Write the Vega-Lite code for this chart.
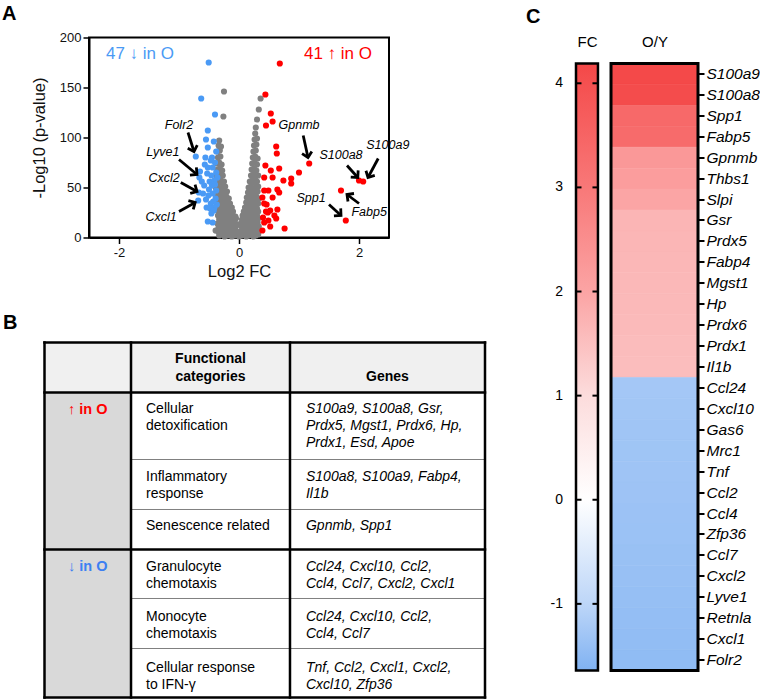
{
  "$schema": "https://vega.github.io/schema/vega-lite/v6.json",
  "background": "white",
  "padding": {"left": 1, "top": 2.5, "right": 0, "bottom": 0},
  "bounds": "flush",
  "align": "none",
  "columns": 2,
  "spacing": {"row": 105, "column": 187},
  "config": {
    "font": "Liberation Sans",
    "view": {"stroke": null},
    "axis": {"labelColor": "#111", "titleColor": "#111", "grid": false},
    "title": {"fontSize": 20, "fontWeight": "bold", "color": "black", "anchor": "start", "frame": "group", "offset": 8}
  },
  "concat": [
    {
      "title": {"text": "A", "dx": -87},
      "width": 300,
      "height": 200,
      "view": {"stroke": "black", "strokeWidth": 2},
      "layer": [
        {
          "data": {"values": [
            {"lfc":-0.33,"nlp":2,"grp":"ns"},{"lfc":-0.28,"nlp":3,"grp":"ns"},{"lfc":-0.24,"nlp":1,"grp":"ns"},{"lfc":-0.2,"nlp":2,"grp":"ns"},{"lfc":-0.16,"nlp":3,"grp":"ns"},{"lfc":-0.12,"nlp":1,"grp":"ns"},{"lfc":-0.08,"nlp":2,"grp":"ns"},{"lfc":-0.04,"nlp":3,"grp":"ns"},{"lfc":0,"nlp":1,"grp":"ns"},{"lfc":0.04,"nlp":2,"grp":"ns"},{"lfc":0.08,"nlp":3,"grp":"ns"},{"lfc":0.12,"nlp":1,"grp":"ns"},{"lfc":0.16,"nlp":2,"grp":"ns"},{"lfc":0.2,"nlp":3,"grp":"ns"},{"lfc":0.24,"nlp":1,"grp":"ns"},{"lfc":0.28,"nlp":2,"grp":"ns"},{"lfc":0.32,"nlp":3,"grp":"ns"},
            {"lfc":-0.35,"nlp":6,"grp":"ns"},{"lfc":-0.3,"nlp":7,"grp":"ns"},{"lfc":-0.26,"nlp":5,"grp":"ns"},{"lfc":-0.22,"nlp":6,"grp":"ns"},{"lfc":-0.18,"nlp":7,"grp":"ns"},{"lfc":-0.14,"nlp":5,"grp":"ns"},{"lfc":-0.1,"nlp":6,"grp":"ns"},{"lfc":-0.06,"nlp":7,"grp":"ns"},{"lfc":-0.02,"nlp":5,"grp":"ns"},{"lfc":0.02,"nlp":6,"grp":"ns"},{"lfc":0.06,"nlp":7,"grp":"ns"},{"lfc":0.1,"nlp":5,"grp":"ns"},{"lfc":0.14,"nlp":6,"grp":"ns"},{"lfc":0.18,"nlp":7,"grp":"ns"},{"lfc":0.22,"nlp":5,"grp":"ns"},{"lfc":0.26,"nlp":6,"grp":"ns"},{"lfc":0.3,"nlp":7,"grp":"ns"},
            {"lfc":-0.34,"nlp":10,"grp":"ns"},{"lfc":-0.29,"nlp":11,"grp":"ns"},{"lfc":-0.25,"nlp":9,"grp":"ns"},{"lfc":-0.21,"nlp":10,"grp":"ns"},{"lfc":-0.17,"nlp":11,"grp":"ns"},{"lfc":-0.13,"nlp":9,"grp":"ns"},{"lfc":-0.09,"nlp":10,"grp":"ns"},{"lfc":-0.05,"nlp":11,"grp":"ns"},{"lfc":0.05,"nlp":10,"grp":"ns"},{"lfc":0.09,"nlp":11,"grp":"ns"},{"lfc":0.13,"nlp":9,"grp":"ns"},{"lfc":0.17,"nlp":10,"grp":"ns"},{"lfc":0.21,"nlp":11,"grp":"ns"},{"lfc":0.25,"nlp":9,"grp":"ns"},{"lfc":0.29,"nlp":10,"grp":"ns"},{"lfc":0.33,"nlp":11,"grp":"ns"},
            {"lfc":-0.36,"nlp":14,"grp":"ns"},{"lfc":-0.31,"nlp":15,"grp":"ns"},{"lfc":-0.27,"nlp":13,"grp":"ns"},{"lfc":-0.23,"nlp":14,"grp":"ns"},{"lfc":-0.19,"nlp":15,"grp":"ns"},{"lfc":-0.15,"nlp":13,"grp":"ns"},{"lfc":-0.11,"nlp":14,"grp":"ns"},{"lfc":-0.07,"nlp":15,"grp":"ns"},{"lfc":-0.03,"nlp":13,"grp":"ns"},{"lfc":0.03,"nlp":14,"grp":"ns"},{"lfc":0.07,"nlp":15,"grp":"ns"},{"lfc":0.11,"nlp":13,"grp":"ns"},{"lfc":0.15,"nlp":14,"grp":"ns"},{"lfc":0.19,"nlp":15,"grp":"ns"},{"lfc":0.23,"nlp":13,"grp":"ns"},{"lfc":0.27,"nlp":14,"grp":"ns"},{"lfc":0.31,"nlp":15,"grp":"ns"},
            {"lfc":-0.33,"nlp":18,"grp":"ns"},{"lfc":-0.29,"nlp":19,"grp":"ns"},{"lfc":-0.25,"nlp":17,"grp":"ns"},{"lfc":-0.21,"nlp":18,"grp":"ns"},{"lfc":-0.17,"nlp":19,"grp":"ns"},{"lfc":-0.13,"nlp":17,"grp":"ns"},{"lfc":-0.09,"nlp":18,"grp":"ns"},{"lfc":-0.05,"nlp":19,"grp":"ns"},{"lfc":0.05,"nlp":18,"grp":"ns"},{"lfc":0.09,"nlp":19,"grp":"ns"},{"lfc":0.13,"nlp":17,"grp":"ns"},{"lfc":0.17,"nlp":18,"grp":"ns"},{"lfc":0.21,"nlp":19,"grp":"ns"},{"lfc":0.25,"nlp":17,"grp":"ns"},{"lfc":0.29,"nlp":18,"grp":"ns"},{"lfc":0.32,"nlp":19,"grp":"ns"},
            {"lfc":-0.35,"nlp":22,"grp":"ns"},{"lfc":-0.3,"nlp":23,"grp":"ns"},{"lfc":-0.26,"nlp":21,"grp":"ns"},{"lfc":-0.22,"nlp":22,"grp":"ns"},{"lfc":-0.18,"nlp":23,"grp":"ns"},{"lfc":-0.14,"nlp":21,"grp":"ns"},{"lfc":-0.1,"nlp":22,"grp":"ns"},{"lfc":-0.06,"nlp":21,"grp":"ns"},{"lfc":0.06,"nlp":22,"grp":"ns"},{"lfc":0.1,"nlp":23,"grp":"ns"},{"lfc":0.14,"nlp":21,"grp":"ns"},{"lfc":0.18,"nlp":22,"grp":"ns"},{"lfc":0.22,"nlp":23,"grp":"ns"},{"lfc":0.26,"nlp":21,"grp":"ns"},{"lfc":0.3,"nlp":22,"grp":"ns"},
            {"lfc":-0.34,"nlp":26,"grp":"ns"},{"lfc":-0.3,"nlp":27,"grp":"ns"},{"lfc":-0.26,"nlp":25,"grp":"ns"},{"lfc":-0.22,"nlp":26,"grp":"ns"},{"lfc":-0.18,"nlp":27,"grp":"ns"},{"lfc":-0.14,"nlp":25,"grp":"ns"},{"lfc":-0.1,"nlp":26,"grp":"ns"},{"lfc":0.08,"nlp":26,"grp":"ns"},{"lfc":0.12,"nlp":27,"grp":"ns"},{"lfc":0.16,"nlp":25,"grp":"ns"},{"lfc":0.2,"nlp":26,"grp":"ns"},{"lfc":0.24,"nlp":27,"grp":"ns"},{"lfc":0.28,"nlp":25,"grp":"ns"},{"lfc":0.32,"nlp":26,"grp":"ns"},
            {"lfc":-0.37,"nlp":30,"grp":"ns"},{"lfc":-0.32,"nlp":31,"grp":"ns"},{"lfc":-0.28,"nlp":29,"grp":"ns"},{"lfc":-0.24,"nlp":30,"grp":"ns"},{"lfc":-0.2,"nlp":31,"grp":"ns"},{"lfc":-0.16,"nlp":29,"grp":"ns"},{"lfc":-0.12,"nlp":30,"grp":"ns"},{"lfc":0.1,"nlp":30,"grp":"ns"},{"lfc":0.14,"nlp":31,"grp":"ns"},{"lfc":0.18,"nlp":29,"grp":"ns"},{"lfc":0.22,"nlp":30,"grp":"ns"},{"lfc":0.26,"nlp":31,"grp":"ns"},{"lfc":0.3,"nlp":29,"grp":"ns"},
            {"lfc":-0.35,"nlp":35,"grp":"ns"},{"lfc":-0.31,"nlp":36,"grp":"ns"},{"lfc":-0.27,"nlp":34,"grp":"ns"},{"lfc":-0.23,"nlp":35,"grp":"ns"},{"lfc":-0.19,"nlp":36,"grp":"ns"},{"lfc":-0.15,"nlp":34,"grp":"ns"},{"lfc":0.12,"nlp":35,"grp":"ns"},{"lfc":0.16,"nlp":36,"grp":"ns"},{"lfc":0.2,"nlp":34,"grp":"ns"},{"lfc":0.24,"nlp":35,"grp":"ns"},{"lfc":0.28,"nlp":36,"grp":"ns"},{"lfc":0.32,"nlp":34,"grp":"ns"},
            {"lfc":-0.38,"nlp":40,"grp":"ns"},{"lfc":-0.33,"nlp":41,"grp":"ns"},{"lfc":-0.29,"nlp":39,"grp":"ns"},{"lfc":-0.25,"nlp":40,"grp":"ns"},{"lfc":-0.21,"nlp":41,"grp":"ns"},{"lfc":-0.17,"nlp":39,"grp":"ns"},{"lfc":0.13,"nlp":40,"grp":"ns"},{"lfc":0.17,"nlp":41,"grp":"ns"},{"lfc":0.21,"nlp":39,"grp":"ns"},{"lfc":0.25,"nlp":40,"grp":"ns"},{"lfc":0.29,"nlp":41,"grp":"ns"},{"lfc":0.33,"nlp":39,"grp":"ns"},
            {"lfc":-0.36,"nlp":45,"grp":"ns"},{"lfc":-0.32,"nlp":46,"grp":"ns"},{"lfc":-0.28,"nlp":44,"grp":"ns"},{"lfc":-0.24,"nlp":45,"grp":"ns"},{"lfc":-0.2,"nlp":46,"grp":"ns"},{"lfc":0.15,"nlp":45,"grp":"ns"},{"lfc":0.19,"nlp":46,"grp":"ns"},{"lfc":0.23,"nlp":44,"grp":"ns"},{"lfc":0.27,"nlp":45,"grp":"ns"},{"lfc":0.31,"nlp":46,"grp":"ns"},
            {"lfc":-0.39,"nlp":50,"grp":"ns"},{"lfc":-0.35,"nlp":51,"grp":"ns"},{"lfc":-0.31,"nlp":49,"grp":"ns"},{"lfc":-0.27,"nlp":50,"grp":"ns"},{"lfc":-0.23,"nlp":51,"grp":"ns"},{"lfc":0.16,"nlp":50,"grp":"ns"},{"lfc":0.2,"nlp":51,"grp":"ns"},{"lfc":0.24,"nlp":49,"grp":"ns"},{"lfc":0.28,"nlp":50,"grp":"ns"},{"lfc":0.32,"nlp":51,"grp":"ns"},
            {"lfc":-0.37,"nlp":56,"grp":"ns"},{"lfc":-0.33,"nlp":57,"grp":"ns"},{"lfc":-0.29,"nlp":55,"grp":"ns"},{"lfc":-0.25,"nlp":56,"grp":"ns"},{"lfc":0.18,"nlp":56,"grp":"ns"},{"lfc":0.22,"nlp":57,"grp":"ns"},{"lfc":0.26,"nlp":55,"grp":"ns"},{"lfc":0.3,"nlp":56,"grp":"ns"},
            {"lfc":-0.38,"nlp":62,"grp":"ns"},{"lfc":-0.34,"nlp":63,"grp":"ns"},{"lfc":-0.3,"nlp":61,"grp":"ns"},{"lfc":-0.27,"nlp":62,"grp":"ns"},{"lfc":0.2,"nlp":62,"grp":"ns"},{"lfc":0.24,"nlp":63,"grp":"ns"},{"lfc":0.28,"nlp":61,"grp":"ns"},{"lfc":0.32,"nlp":62,"grp":"ns"},
            {"lfc":-0.36,"nlp":68,"grp":"ns"},{"lfc":-0.32,"nlp":69,"grp":"ns"},{"lfc":-0.28,"nlp":67,"grp":"ns"},{"lfc":0.21,"nlp":68,"grp":"ns"},{"lfc":0.25,"nlp":69,"grp":"ns"},{"lfc":0.29,"nlp":67,"grp":"ns"},
            {"lfc":-0.37,"nlp":74,"grp":"ns"},{"lfc":-0.33,"nlp":75,"grp":"ns"},{"lfc":-0.29,"nlp":73,"grp":"ns"},{"lfc":0.22,"nlp":74,"grp":"ns"},{"lfc":0.26,"nlp":75,"grp":"ns"},{"lfc":0.3,"nlp":73,"grp":"ns"},
            {"lfc":-0.35,"nlp":80,"grp":"ns"},{"lfc":-0.31,"nlp":81,"grp":"ns"},{"lfc":0.23,"nlp":80,"grp":"ns"},{"lfc":0.27,"nlp":81,"grp":"ns"},{"lfc":0.31,"nlp":79,"grp":"ns"},
            {"lfc":-0.36,"nlp":86,"grp":"ns"},{"lfc":-0.32,"nlp":87,"grp":"ns"},{"lfc":0.24,"nlp":86,"grp":"ns"},{"lfc":0.28,"nlp":87,"grp":"ns"},
            {"lfc":-0.34,"nlp":92,"grp":"ns"},{"lfc":-0.3,"nlp":91,"grp":"ns"},{"lfc":0.25,"nlp":92,"grp":"ns"},{"lfc":0.29,"nlp":93,"grp":"ns"},
            {"lfc":-0.33,"nlp":97,"grp":"ns"},{"lfc":0.26,"nlp":98,"grp":"ns"},{"lfc":0.3,"nlp":99,"grp":"ns"},
            {"lfc":0.27,"nlp":104,"grp":"ns"},{"lfc":0.28,"nlp":110,"grp":"ns"},{"lfc":0.3,"nlp":118,"grp":"ns"},
            {"lfc":-0.25,"nlp":146,"grp":"ns"},{"lfc":-0.26,"nlp":121,"grp":"ns"},{"lfc":0.36,"nlp":139,"grp":"ns"},{"lfc":0.33,"nlp":128,"grp":"ns"},{"lfc":-0.39,"nlp":7,"grp":"ns"},
            {"lfc":-0.505,"nlp":175,"grp":"down"},{"lfc":-0.63,"nlp":139,"grp":"down"},{"lfc":-0.4,"nlp":123,"grp":"down"},{"lfc":-0.55,"nlp":98,"grp":"down"},{"lfc":-0.52,"nlp":107,"grp":"down"},{"lfc":-0.42,"nlp":96,"grp":"down"},{"lfc":-0.52,"nlp":90,"grp":"down"},{"lfc":-0.38,"nlp":86,"grp":"down"},{"lfc":-0.72,"nlp":81,"grp":"down"},{"lfc":-0.56,"nlp":80,"grp":"down"},
            {"lfc":-0.45,"nlp":80,"grp":"down"},{"lfc":-0.47,"nlp":77,"grp":"down"},{"lfc":-0.4,"nlp":75,"grp":"down"},{"lfc":-0.57,"nlp":73,"grp":"down"},{"lfc":-0.52,"nlp":70,"grp":"down"},{"lfc":-0.44,"nlp":70,"grp":"down"},{"lfc":-0.65,"nlp":66,"grp":"down"},{"lfc":-0.38,"nlp":65,"grp":"down"},{"lfc":-0.53,"nlp":64,"grp":"down"},{"lfc":-0.46,"nlp":62,"grp":"down"},
            {"lfc":-0.66,"nlp":60,"grp":"down"},{"lfc":-0.36,"nlp":60,"grp":"down"},{"lfc":-0.62,"nlp":56,"grp":"down"},{"lfc":-0.49,"nlp":56,"grp":"down"},{"lfc":-0.41,"nlp":57,"grp":"down"},{"lfc":-0.45,"nlp":52,"grp":"down"},{"lfc":-0.4,"nlp":53,"grp":"down"},{"lfc":-0.58,"nlp":52,"grp":"down"},{"lfc":-0.5,"nlp":48,"grp":"down"},{"lfc":-0.38,"nlp":47,"grp":"down"},
            {"lfc":-0.67,"nlp":45,"grp":"down"},{"lfc":-0.6,"nlp":44,"grp":"down"},{"lfc":-0.44,"nlp":44,"grp":"down"},{"lfc":-0.51,"nlp":42,"grp":"down"},{"lfc":-0.39,"nlp":39,"grp":"down"},{"lfc":-0.55,"nlp":38,"grp":"down"},{"lfc":-0.68,"nlp":37,"grp":"down"},{"lfc":-0.43,"nlp":36,"grp":"down"},{"lfc":-0.47,"nlp":34,"grp":"down"},{"lfc":-0.37,"nlp":33,"grp":"down"},
            {"lfc":-0.41,"nlp":30,"grp":"down"},{"lfc":-0.54,"nlp":30,"grp":"down"},{"lfc":-0.48,"nlp":29,"grp":"down"},{"lfc":-0.42,"nlp":27,"grp":"down"},{"lfc":-0.46,"nlp":24,"grp":"down"},{"lfc":-0.52,"nlp":16,"grp":"down"},{"lfc":-0.44,"nlp":15,"grp":"down"},
            {"lfc":0.68,"nlp":174,"grp":"up"},{"lfc":0.44,"nlp":143,"grp":"up"},{"lfc":0.53,"nlp":124,"grp":"up"},{"lfc":0.56,"nlp":116,"grp":"up"},{"lfc":0.45,"nlp":112,"grp":"up"},{"lfc":0.62,"nlp":91,"grp":"up"},{"lfc":0.63,"nlp":84,"grp":"up"},{"lfc":1.17,"nlp":74,"grp":"up"},{"lfc":0.44,"nlp":72,"grp":"up"},{"lfc":0.67,"nlp":69,"grp":"up"},
            {"lfc":0.53,"nlp":67,"grp":"up"},{"lfc":1.0,"nlp":65,"grp":"up"},{"lfc":0.42,"nlp":60,"grp":"up"},{"lfc":0.56,"nlp":60,"grp":"up"},{"lfc":0.87,"nlp":59,"grp":"up"},{"lfc":0.74,"nlp":57,"grp":"up"},{"lfc":0.87,"nlp":54,"grp":"up"},{"lfc":0.64,"nlp":48,"grp":"up"},{"lfc":0.49,"nlp":47,"grp":"up"},{"lfc":0.67,"nlp":45,"grp":"up"},
            {"lfc":2.0,"nlp":57,"grp":"up"},{"lfc":2.07,"nlp":56,"grp":"up"},{"lfc":1.7,"nlp":47,"grp":"up"},{"lfc":1.78,"nlp":17,"grp":"up"},{"lfc":0.39,"nlp":40,"grp":"up"},{"lfc":0.42,"nlp":34,"grp":"up"},{"lfc":0.46,"nlp":33,"grp":"up"},{"lfc":0.52,"nlp":27,"grp":"up"},{"lfc":0.45,"nlp":26,"grp":"up"},{"lfc":0.59,"nlp":22,"grp":"up"},
            {"lfc":0.42,"nlp":15,"grp":"up"},{"lfc":0.49,"nlp":17,"grp":"up"},{"lfc":0.76,"nlp":9,"grp":"up"},{"lfc":0.39,"nlp":7,"grp":"up"},{"lfc":0.52,"nlp":11,"grp":"up"},{"lfc":0.62,"nlp":19,"grp":"up"},{"lfc":0.48,"nlp":25,"grp":"up"},{"lfc":0.42,"nlp":47,"grp":"up"},{"lfc":0.56,"nlp":40,"grp":"up"},{"lfc":0.64,"nlp":28,"grp":"up"},
            {"lfc":0.4,"nlp":20,"grp":"up"}
          ]},
          "mark": {"type": "circle", "size": 38, "opacity": 1},
          "encoding": {
            "x": {"field": "lfc", "type": "quantitative",
                  "scale": {"domain": [-2.5, 2.5], "nice": false, "zero": false},
                  "axis": {"title": "Log2 FC", "values": [-2, 0, 2], "labelExpr": "datum.value < 0 ? '-' + abs(datum.value) : '' + datum.value", "domainColor": "black", "domainWidth": 2, "tickColor": "black", "tickWidth": 1.5, "tickSize": 6, "labelFontSize": 13, "labelPadding": 3, "titleFontSize": 16.5, "titleFontWeight": "normal", "titlePadding": 4}},
            "y": {"field": "nlp", "type": "quantitative",
                  "scale": {"domain": [0, 200], "nice": false, "zero": false},
                  "axis": {"title": "-Log10 (p-value)", "values": [0, 50, 100, 150, 200], "domainColor": "black", "domainWidth": 2, "tickColor": "black", "tickWidth": 1.5, "tickSize": 6, "labelFontSize": 13, "labelPadding": 2, "titleFontSize": 16.5, "titleFontWeight": "normal", "titlePadding": 12}},
            "color": {"field": "grp", "type": "nominal",
                      "scale": {"domain": ["ns", "down", "up"], "range": ["#808080", "#4a9af5", "#ff0000"]},
                      "legend": null}
          }
        },
        {
          "data": {"values": [
            {"gene":"Folr2","x0":-0.85,"y0":105,"x1":-0.75,"y1":86,"lx":-1.0,"ly":113},
            {"gene":"Lyve1","x0":-1.0,"y0":78,"x1":-0.7,"y1":63,"lx":-1.27,"ly":86},
            {"gene":"Cxcl2","x0":-0.97,"y0":55,"x1":-0.7,"y1":46,"lx":-1.25,"ly":60},
            {"gene":"Cxcl1","x0":-1.0,"y0":26,"x1":-0.73,"y1":35,"lx":-1.3,"ly":21},
            {"gene":"Gpnmb","x0":1.07,"y0":102,"x1":1.15,"y1":80,"lx":1.0,"ly":113},
            {"gene":"S100a8","x0":1.8,"y0":72,"x1":1.98,"y1":60,"lx":1.7,"ly":83},
            {"gene":"S100a9","x0":2.32,"y0":79,"x1":2.15,"y1":60,"lx":2.48,"ly":93},
            {"gene":"Spp1","x0":1.5,"y0":33,"x1":1.7,"y1":22,"lx":1.2,"ly":40},
            {"gene":"Fabp5","x0":2.0,"y0":34,"x1":1.8,"y1":43,"lx":2.17,"ly":26}
          ]},
          "layer": [
            {
              "mark": {"type": "rule", "color": "black", "strokeWidth": 2.8},
              "encoding": {
                "x": {"field": "x0", "type": "quantitative"},
                "y": {"field": "y0", "type": "quantitative"},
                "x2": {"field": "x1"},
                "y2": {"field": "y1"}
              }
            },
            {
              "transform": [{"calculate": "atan2(60 * (datum.x1 - datum.x0), datum.y1 - datum.y0) * 180 / PI", "as": "ang"}],
              "mark": {"type": "point", "shape": "M-1,1L0,0L1,1", "filled": false, "color": "black", "strokeWidth": 2.8, "size": 100, "opacity": 1},
              "encoding": {
                "x": {"field": "x1", "type": "quantitative"},
                "y": {"field": "y1", "type": "quantitative"},
                "angle": {"field": "ang", "type": "quantitative", "scale": null}
              }
            },
            {
              "mark": {"type": "text", "fontStyle": "italic", "fontSize": 12.5, "color": "black"},
              "encoding": {
                "x": {"field": "lx", "type": "quantitative"},
                "y": {"field": "ly", "type": "quantitative"},
                "text": {"field": "gene"}
              }
            }
          ]
        },
        {
          "data": {"values": [
            {"label": "47 ↓ in O", "grp": "down", "lx": -1.65, "ly": 184},
            {"label": "41 ↑ in O", "grp": "up", "lx": 1.65, "ly": 184}
          ]},
          "mark": {"type": "text", "fontSize": 17},
          "encoding": {
            "x": {"field": "lx", "type": "quantitative"},
            "y": {"field": "ly", "type": "quantitative"},
            "text": {"field": "label"},
            "color": {"field": "grp", "type": "nominal", "legend": null}
          }
        }
      ]
    },
    {
      "title": {"text": "C", "dx": -50},
      "width": 122,
      "height": 200,
      "resolve": {"scale": {"y": "independent"}, "axis": {"y": "independent"}},
      "layer": [
        {
          "data": {"values": [
            {"gene":"S100a9","fc":4.17},{"gene":"S100a8","fc":4.1},{"gene":"Spp1","fc":3.38},{"gene":"Fabp5","fc":3.32},{"gene":"Gpnmb","fc":2.28},
            {"gene":"Thbs1","fc":2.15},{"gene":"Slpi","fc":1.98},{"gene":"Gsr","fc":1.7},{"gene":"Prdx5","fc":1.68},{"gene":"Fabp4","fc":1.66},
            {"gene":"Mgst1","fc":1.64},{"gene":"Hp","fc":1.62},{"gene":"Prdx6","fc":1.6},{"gene":"Prdx1","fc":1.58},{"gene":"Il1b","fc":1.56},
            {"gene":"Ccl24","fc":-1.26},{"gene":"Cxcl10","fc":-1.28},{"gene":"Gas6","fc":-1.3},{"gene":"Mrc1","fc":-1.31},{"gene":"Tnf","fc":-1.32},
            {"gene":"Ccl2","fc":-1.33},{"gene":"Ccl4","fc":-1.35},{"gene":"Zfp36","fc":-1.36},{"gene":"Ccl7","fc":-1.38},{"gene":"Cxcl2","fc":-1.39},
            {"gene":"Lyve1","fc":-1.41},{"gene":"Retnla","fc":-1.43},{"gene":"Cxcl1","fc":-1.45},{"gene":"Folr2","fc":-1.47}
          ]},
          "mark": {"type": "rect", "strokeWidth": 0.6},
          "encoding": {
            "y": {"field": "gene", "type": "nominal", "sort": null,
                  "scale": {"paddingInner": 0, "paddingOuter": 0, "range": [26, 633]},
                  "axis": {"orient": "right", "title": null, "domain": false, "tickColor": "black", "tickWidth": 2, "tickSize": 6, "labelFontSize": 15.5, "labelFontStyle": "italic", "labelColor": "black", "labelPadding": 2, "labelOverlap": false}},
            "x": {"datum": 0.287, "type": "quantitative",
                  "scale": {"domain": [0, 1], "nice": false, "zero": false},
                  "axis": {"orient": "top", "title": null, "values": [0.09, 0.6435], "labelExpr": "datum.value < 0.3 ? 'FC' : 'O/Y'", "domain": false, "ticks": false, "tickSize": 0, "labelPadding": 2, "offset": -14, "labelFontSize": 15, "labelColor": "black"}},
            "x2": {"datum": 1},
            "color": {"field": "fc", "type": "quantitative",
                      "scale": {"domain": [-1.64, -1, 0, 1, 2, 3, 4, 4.19], "range": ["#80b2f2", "#bdd6f8", "#ffffff", "#fcdcdc", "#fba4a4", "#f87878", "#f55050", "#f44848"], "interpolate": "rgb"},
                      "legend": null},
            "stroke": {"field": "fc", "type": "quantitative",
                      "scale": {"domain": [-1.64, -1, 0, 1, 2, 3, 4, 4.19], "range": ["#80b2f2", "#bdd6f8", "#ffffff", "#fcdcdc", "#fba4a4", "#f87878", "#f55050", "#f44848"], "interpolate": "rgb"},
                      "legend": null}
          }
        },
        {
          "layer": [
            {
              "data": {"values": [{"lo": -1.64, "hi": 4.19}]},
              "mark": {"type": "rect", "stroke": "black", "strokeWidth": 2.5,
                       "fill": {"gradient": "linear", "x1": 0, "y1": 1, "x2": 0, "y2": 0,
                                "stops": [
                                  {"offset": 0, "color": "#80b2f2"},
                                  {"offset": 0.1098, "color": "#bdd6f8"},
                                  {"offset": 0.2813, "color": "#ffffff"},
                                  {"offset": 0.4528, "color": "#fcdcdc"},
                                  {"offset": 0.6244, "color": "#fba4a4"},
                                  {"offset": 0.7959, "color": "#f87878"},
                                  {"offset": 0.9674, "color": "#f55050"},
                                  {"offset": 1, "color": "#f44848"}
                                ]}},
              "encoding": {
                "y": {"field": "lo", "type": "quantitative",
                      "scale": {"domain": [-1.64, 4.19], "range": [633, 26], "nice": false, "zero": false},
                      "axis": null},
                "y2": {"field": "hi"},
                "x": {"datum": 0, "type": "quantitative"},
                "x2": {"datum": 0.18}
              }
            },
            {
              "data": {"values": [{"v": -1, "lab": "-1"}, {"v": 0, "lab": "0"}, {"v": 1, "lab": "1"}, {"v": 2, "lab": "2"}, {"v": 3, "lab": "3"}, {"v": 4, "lab": "4"}]},
              "layer": [
                {
                  "mark": {"type": "rule", "color": "black", "strokeWidth": 2},
                  "encoding": {"y": {"field": "v", "type": "quantitative"}, "x": {"datum": 0, "type": "quantitative"}, "x2": {"datum": 0.045}}
                },
                {
                  "mark": {"type": "rule", "color": "black", "strokeWidth": 2},
                  "encoding": {"y": {"field": "v", "type": "quantitative"}, "x": {"datum": 0.135, "type": "quantitative"}, "x2": {"datum": 0.18}}
                },
                {
                  "mark": {"type": "text", "fontSize": 14, "color": "black", "align": "right", "baseline": "middle", "dx": -13},
                  "encoding": {"y": {"field": "v", "type": "quantitative"}, "x": {"datum": 0, "type": "quantitative"}, "text": {"field": "lab"}}
                }
              ]
            },
            {
              "data": {"values": [{"lo": -1.64, "hi": 4.19}]},
              "mark": {"type": "rect", "filled": false, "color": "black", "strokeWidth": 3},
              "encoding": {
                "y": {"field": "lo", "type": "quantitative"},
                "y2": {"field": "hi"},
                "x": {"datum": 0.287, "type": "quantitative"},
                "x2": {"datum": 1}
              }
            }
          ]
        }
      ]
    },
    {
      "title": {"text": "B", "dx": -86},
      "width": 300,
      "height": 355,
      "layer": [
        {
          "data": {"values": [
            {"zone": "header", "x0": 0, "x1": 100, "y0": 0, "y1": 14.08},
            {"zone": "direction", "x0": 0, "x1": 19.64, "y0": 14.08, "y1": 100}
          ]},
          "mark": {"type": "rect"},
          "encoding": {
            "x": {"field": "x0", "type": "quantitative", "scale": {"domain": [0, 100], "range": [-44.5, 396], "nice": false, "zero": false}, "axis": null},
            "x2": {"field": "x1"},
            "y": {"field": "y0", "type": "quantitative", "scale": {"domain": [0, 100], "range": [0, 355], "nice": false, "zero": false}, "axis": null},
            "y2": {"field": "y1"},
            "color": {"field": "zone", "type": "nominal", "scale": {"domain": ["header", "direction"], "range": ["#f0f0f0", "#d9d9d9"]}, "legend": null}
          }
        },
        {
          "data": {"values": [
            {"kind": "separator", "x0": 19.64, "x1": 100, "y0": 32.96, "y1": 32.96},
            {"kind": "separator", "x0": 19.64, "x1": 100, "y0": 47.04, "y1": 47.04},
            {"kind": "separator", "x0": 19.64, "x1": 100, "y0": 72.11, "y1": 72.11},
            {"kind": "separator", "x0": 19.64, "x1": 100, "y0": 86.2, "y1": 86.2},
            {"kind": "border", "x0": 0, "x1": 100, "y0": 0, "y1": 0},
            {"kind": "border", "x0": 0, "x1": 100, "y0": 100, "y1": 100},
            {"kind": "border", "x0": 0, "x1": 0, "y0": 0, "y1": 100},
            {"kind": "border", "x0": 100, "x1": 100, "y0": 0, "y1": 100},
            {"kind": "border", "x0": 19.64, "x1": 19.64, "y0": 0, "y1": 100},
            {"kind": "border", "x0": 55.73, "x1": 55.73, "y0": 0, "y1": 100},
            {"kind": "border", "x0": 0, "x1": 100, "y0": 14.08, "y1": 14.08},
            {"kind": "border", "x0": 0, "x1": 100, "y0": 58.31, "y1": 58.31}
          ]},
          "layer": [
            {
              "transform": [{"filter": "datum.kind === 'separator'"}],
              "mark": {"type": "rule", "color": "#808080", "strokeWidth": 1},
              "encoding": {
                "x": {"field": "x0", "type": "quantitative", "scale": {"domain": [0, 100], "range": [-44.5, 396], "nice": false, "zero": false}},
                "x2": {"field": "x1"},
                "y": {"field": "y0", "type": "quantitative", "scale": {"domain": [0, 100], "range": [0, 355], "nice": false, "zero": false}},
                "y2": {"field": "y1"}
              }
            },
            {
              "transform": [{"filter": "datum.kind === 'border'"}],
              "mark": {"type": "rule", "color": "black", "strokeWidth": 2.5, "strokeCap": "square"},
              "encoding": {
                "x": {"field": "x0", "type": "quantitative", "scale": {"domain": [0, 100], "range": [-44.5, 396], "nice": false, "zero": false}},
                "x2": {"field": "x1"},
                "y": {"field": "y0", "type": "quantitative", "scale": {"domain": [0, 100], "range": [0, 355], "nice": false, "zero": false}},
                "y2": {"field": "y1"}
              }
            }
          ]
        },
        {
          "data": {"values": [
            {"cell": "head", "tx": 37.68, "ty": 4.51, "text": "Functional"},
            {"cell": "head", "tx": 37.68, "ty": 9.58, "text": "categories"},
            {"cell": "head", "tx": 77.87, "ty": 9.58, "text": "Genes"},
            {"cell": "up", "tx": 9.82, "ty": 19.15, "text": "↑ in O"},
            {"cell": "down", "tx": 9.82, "ty": 63.1, "text": "↓ in O"},
            {"cell": "category", "tx": 23.04, "ty": 18.87, "text": "Cellular"},
            {"cell": "category", "tx": 23.04, "ty": 23.66, "text": "detoxification"},
            {"cell": "category", "tx": 23.04, "ty": 37.75, "text": "Inflammatory"},
            {"cell": "category", "tx": 23.04, "ty": 42.54, "text": "response"},
            {"cell": "category", "tx": 23.04, "ty": 51.83, "text": "Senescence related"},
            {"cell": "category", "tx": 23.04, "ty": 63.1, "text": "Granulocyte"},
            {"cell": "category", "tx": 23.04, "ty": 67.89, "text": "chemotaxis"},
            {"cell": "category", "tx": 23.04, "ty": 77.46, "text": "Monocyte"},
            {"cell": "category", "tx": 23.04, "ty": 82.25, "text": "chemotaxis"},
            {"cell": "category", "tx": 23.04, "ty": 91.55, "text": "Cellular response"},
            {"cell": "category", "tx": 23.04, "ty": 96.34, "text": "to IFN-γ"},
            {"cell": "genes", "tx": 59.36, "ty": 18.87, "text": "S100a9, S100a8, Gsr,"},
            {"cell": "genes", "tx": 59.36, "ty": 23.66, "text": "Prdx5, Mgst1, Prdx6, Hp,"},
            {"cell": "genes", "tx": 59.36, "ty": 28.45, "text": "Prdx1, Esd, Apoe"},
            {"cell": "genes", "tx": 59.36, "ty": 37.75, "text": "S100a8, S100a9, Fabp4,"},
            {"cell": "genes", "tx": 59.36, "ty": 42.54, "text": "Il1b"},
            {"cell": "genes", "tx": 59.36, "ty": 51.83, "text": "Gpnmb, Spp1"},
            {"cell": "genes", "tx": 59.36, "ty": 63.1, "text": "Ccl24, Cxcl10, Ccl2,"},
            {"cell": "genes", "tx": 59.36, "ty": 67.89, "text": "Ccl4, Ccl7, Cxcl2, Cxcl1"},
            {"cell": "genes", "tx": 59.36, "ty": 77.46, "text": "Ccl24, Cxcl10, Ccl2,"},
            {"cell": "genes", "tx": 59.36, "ty": 82.25, "text": "Ccl4, Ccl7"},
            {"cell": "genes", "tx": 59.36, "ty": 91.55, "text": "Tnf, Ccl2, Cxcl1, Cxcl2,"},
            {"cell": "genes", "tx": 59.36, "ty": 96.34, "text": "Cxcl10, Zfp36"}
          ]},
          "encoding": {
            "x": {"field": "tx", "type": "quantitative", "scale": {"domain": [0, 100], "range": [-44.5, 396], "nice": false, "zero": false}},
            "y": {"field": "ty", "type": "quantitative", "scale": {"domain": [0, 100], "range": [0, 355], "nice": false, "zero": false}},
            "text": {"field": "text"}
          },
          "layer": [
            {"transform": [{"filter": "datum.cell === 'head'"}], "mark": {"type": "text", "fontSize": 14, "fontWeight": "bold", "color": "black", "align": "center", "baseline": "middle"}},
            {"transform": [{"filter": "datum.cell === 'up'"}], "mark": {"type": "text", "fontSize": 14.5, "fontWeight": "bold", "color": "#ff0000", "align": "center", "baseline": "middle"}},
            {"transform": [{"filter": "datum.cell === 'down'"}], "mark": {"type": "text", "fontSize": 14.5, "fontWeight": "bold", "color": "#3d80f2", "align": "center", "baseline": "middle"}},
            {"transform": [{"filter": "datum.cell === 'category'"}], "mark": {"type": "text", "fontSize": 14, "color": "black", "align": "left", "baseline": "middle"}},
            {"transform": [{"filter": "datum.cell === 'genes'"}], "mark": {"type": "text", "fontSize": 14, "fontStyle": "italic", "color": "black", "align": "left", "baseline": "middle"}}
          ]
        }
      ]
    }
  ]
}
